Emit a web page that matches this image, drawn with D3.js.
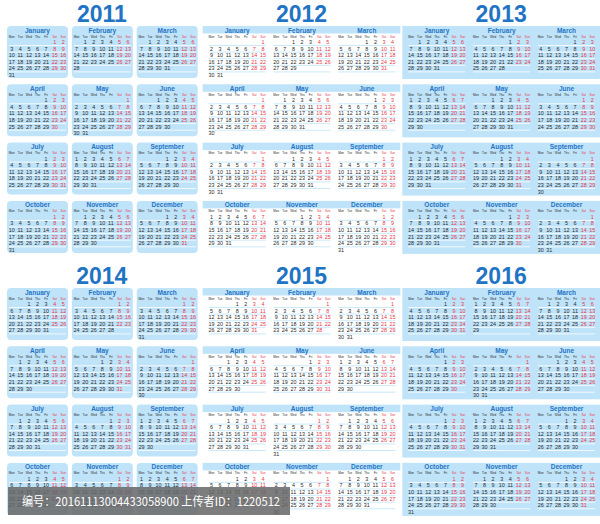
<!DOCTYPE html>
<html><head><meta charset="utf-8">
<script src="https://cdn.jsdelivr.net/npm/d3@7"></script>
<style>body{margin:0;background:#fff}</style></head>
<body><svg id="c" width="600" height="524"></svg>
<script>
const years = [2011, 2012, 2013, 2014, 2015, 2016];
const styles = ["box", "bar", "band", "box", "bar", "band"];
const monthNames = ["January","February","March","April","May","June","July","August","September","October","November","December"];
const dayLabels = ["Mon","Tue","Wed","Thu","Fri","Sat","Sun"];
const watermark = "编号：20161113004433058900 上传者ID：1220512";

const svg = d3.select("#c");
const blue = "#1f74c4", fillC = "#bfe3f9", red = "#e8364a", ink = "#2a2a2a";
const colX = d3.scaleBand().domain([0,1,2]).range([3, 600]).paddingInner(0.01);
const rowY = d3.scaleLinear().domain([0,1]).range([0, 262]);
const wy = d3.scaleLinear().domain([0,5]).range([18, 51]);

years.forEach((yr, i) => {
  const c = i % 3, r = Math.floor(i / 3), st = styles[i];
  const bx = colX(c), bw = colX.bandwidth(), by = rowY(r);
  const g = svg.append("g").attr("transform", `translate(${bx},${by})`);
  g.append("text").attr("x", bw/2).attr("y", 22).attr("text-anchor","middle")
    .attr("font-family","Liberation Sans, Arial").attr("font-weight","bold").attr("font-size",23).attr("fill",blue).text(yr);
  const mx = d3.scaleBand().domain([0,1,2]).range([4, bw-3]).paddingInner(0.06);
  const dx = d3.scaleBand().domain(d3.range(7)).range([0, mx.bandwidth()]).padding(0.1);
  for (let q = 0; q < 4; q++) {
    const qy = 26 + q * 58.3;
    if (st === "band") g.append("rect").attr("x",0).attr("y",qy).attr("width",bw).attr("height",53).attr("fill",fillC);
    if (st === "bar") g.append("rect").attr("x",0).attr("y",qy).attr("width",bw).attr("height",7.5).attr("fill",fillC);
    for (let k = 0; k < 3; k++) {
      const m = q*3 + k;
      const mg = g.append("g").attr("transform", `translate(${mx(k)},${qy})`);
      const w = mx.bandwidth();
      if (st === "box") mg.append("rect").attr("width",w).attr("height",52).attr("rx",4).attr("fill",fillC);
      mg.append("text").attr("x",w/2).attr("y",6.5).attr("text-anchor","middle")
        .attr("font-family","Liberation Sans, Arial").attr("font-weight","bold").attr("font-size",6.5).attr("fill",blue).text(monthNames[m]);
      dayLabels.forEach((d,j)=> mg.append("text").attr("x",dx(j)+dx.bandwidth()/2).attr("y",11.5).attr("text-anchor","middle")
        .attr("font-family","Liberation Sans, Arial").attr("font-size",3).attr("fill", j>=5?red:ink).text(d));
      const first = (new Date(yr, m, 1).getDay() + 6) % 7;
      const nd = new Date(yr, m+1, 0).getDate();
      for (let wk = 0; wk < 5; wk++) mg.append("line").attr("x1",2).attr("x2",w-2)
        .attr("y1",wy(wk)+1.5).attr("y2",wy(wk)+1.5).attr("stroke", st==="bar"?"#bfe3f9":"#ffffff").attr("stroke-width",0.8);
      for (let d = 1; d <= nd; d++) {
        const p = first + d - 1, col = p % 7, row = Math.floor(p / 7);
        mg.append("text").attr("x",dx(col)+dx.bandwidth()/2).attr("y",wy(row))
          .attr("text-anchor","middle").attr("font-family","Liberation Sans, Arial").attr("font-size",5.4)
          .attr("fill", col>=5?red:ink).text(d);
      }
    }
  }
});
svg.append("rect").attr("x",8).attr("y",487).attr("width",282).attr("height",28).attr("fill","#666").attr("opacity",0.85);
svg.append("text").attr("x",22).attr("y",506).attr("font-family","Noto Sans CJK SC").attr("font-size",12)
  .attr("textLength",258).attr("lengthAdjust","spacingAndGlyphs").attr("fill","#fff").text(watermark);
</script></body></html>
